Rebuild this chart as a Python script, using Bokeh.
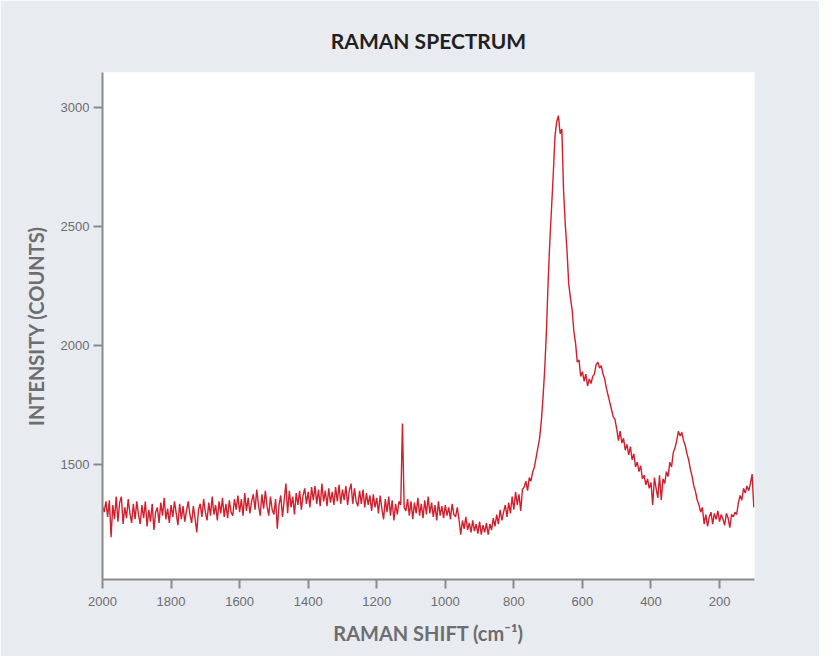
from bokeh.plotting import figure
from bokeh.models import Range1d, Title, FixedTicker
from bokeh.embed import file_html
from bokeh.resources import INLINE

# Raman shift grid (cm^-1), 5 cm^-1 steps from 2000 down to 100
shift_start = 2000
shift_step = 5

intensity_2000_1505 = [
    1325, 1300, 1345, 1280, 1350, 1195, 1330, 1270, 1365, 1260,
    1340, 1365, 1250, 1320, 1275, 1355, 1295, 1255, 1335, 1270,
    1345, 1290, 1250, 1330, 1275, 1345, 1240, 1310, 1260, 1335,
    1225, 1300, 1320, 1255, 1340, 1285, 1360, 1270, 1315, 1255,
    1330, 1280, 1345, 1295, 1245, 1335, 1270, 1325, 1260, 1305,
    1345, 1290, 1255, 1325, 1275, 1215, 1310, 1335, 1280, 1355,
    1300, 1265, 1340, 1285, 1365, 1290, 1330, 1265, 1345, 1295,
    1360, 1280, 1335, 1275, 1350, 1300, 1285, 1355, 1310, 1370,
    1300, 1355, 1285, 1380, 1305, 1360, 1295, 1345, 1375, 1310,
    1395, 1330, 1285, 1375, 1315, 1390, 1325, 1285, 1365, 1310,
]
intensity_1500_1005 = [
    1290, 1355, 1230, 1330, 1370, 1280, 1350, 1420, 1295, 1390,
    1320, 1365, 1290, 1380, 1330, 1390, 1310, 1370, 1400, 1335,
    1385, 1320, 1405, 1350, 1410, 1335, 1395, 1325, 1420, 1345,
    1390, 1325, 1400, 1340, 1385, 1330, 1405, 1345, 1415, 1335,
    1395, 1350, 1410, 1330, 1390, 1420, 1335, 1400, 1345, 1325,
    1390, 1335, 1395, 1320, 1380, 1330, 1370, 1305, 1375, 1320,
    1360, 1295, 1370, 1315, 1270, 1355, 1300, 1365, 1285, 1350,
    1265, 1335, 1290, 1345, 1330, 1672, 1320, 1305, 1355, 1285,
    1345, 1270, 1340, 1295, 1360, 1285, 1335, 1275, 1350, 1290,
    1365, 1295, 1340, 1280, 1330, 1265, 1345, 1285, 1325, 1275,
]
intensity_1000_505 = [
    1330, 1285, 1320, 1270, 1335, 1290, 1280, 1320, 1270, 1205,
    1265, 1230, 1280, 1225, 1255, 1215, 1265, 1220, 1250, 1210,
    1260, 1205, 1245, 1215, 1255, 1205, 1250, 1225, 1275, 1240,
    1290, 1250, 1310, 1265, 1300, 1330, 1280, 1340, 1295, 1365,
    1310, 1385, 1330, 1375, 1305, 1395, 1405, 1430, 1390, 1445,
    1430, 1470, 1490, 1530, 1570, 1610, 1680, 1780, 1900, 2060,
    2270, 2440, 2580, 2720, 2880, 2940, 2966, 2890, 2910, 2650,
    2510, 2400, 2260, 2200, 2150, 2060, 2010, 1930, 1940, 1870,
    1890, 1850, 1880, 1830, 1860, 1840, 1870, 1880, 1920, 1930,
    1905, 1915, 1880, 1860, 1820, 1790, 1760, 1730, 1700, 1690,
]
intensity_500_100 = [
    1650, 1600, 1640, 1590, 1610, 1560, 1585, 1540, 1575, 1520,
    1545, 1490, 1510, 1470, 1495, 1440, 1455, 1415, 1440, 1400,
    1425, 1330, 1445, 1400, 1360, 1455, 1350, 1440, 1420, 1470,
    1450, 1510, 1490, 1550, 1570, 1600, 1640, 1620, 1635, 1600,
    1580, 1545, 1520, 1480, 1450, 1410, 1385, 1350, 1330, 1300,
    1320, 1250, 1290, 1240, 1280, 1300, 1250, 1295, 1270, 1305,
    1260, 1290, 1270, 1245, 1295, 1275, 1235, 1290, 1280, 1300,
    1290, 1340, 1370, 1350, 1400, 1380, 1410, 1390, 1420, 1460,
    1320,
]

intensity = intensity_2000_1505 + intensity_1500_1005 + intensity_1000_505 + intensity_500_100
raman_shift = [shift_start - i * shift_step for i in range(len(intensity))]

x_ticks = [2000, 1800, 1600, 1400, 1200, 1000, 800, 600, 400, 200]
y_ticks = [1500, 2000, 2500, 3000]

p = figure(
    width=819, height=656,
    x_range=Range1d(2000, 98), y_range=Range1d(1017, 3147),
    output_backend="svg", toolbar_location=None,
    min_border_left=102, min_border_top=72, min_border_right=65, min_border_bottom=77,
)
p.background_fill_color = "white"
p.border_fill_color = "#e8ebef"
p.outline_line_color = None
p.grid.visible = False

p.add_layout(Title(text="RAMAN SPECTRUM", align="center", text_font="Lato",
                   text_font_size="21px", text_font_style="bold",
                   text_color="#231f20", standoff=40), "above")

p.line(raman_shift, intensity, line_color="#d0202e", line_width=1.4)

for ax in (p.xaxis[0], p.yaxis[0]):
    ax.axis_line_color = "#8a8a8a"
    ax.axis_line_width = 2
    ax.major_tick_line_color = "#8a8a8a"
    ax.major_tick_line_width = 2
    ax.major_tick_out = 9
    ax.major_tick_in = 0
    ax.minor_tick_line_color = None
    ax.major_label_text_font = "Liberation Sans"
    ax.major_label_text_font_size = "13px"
    ax.major_label_text_color = "#6d6e71"
    ax.axis_label_text_font = "Lato"
    ax.axis_label_text_font_style = "bold"
    ax.axis_label_text_font_size = "20px"
    ax.axis_label_text_color = "#6d6e71"

p.xaxis[0].ticker = FixedTicker(ticks=x_ticks)
p.yaxis[0].ticker = FixedTicker(ticks=y_ticks)
p.xaxis[0].axis_label = "RAMAN SHIFT (cm⁻¹)"
p.yaxis[0].axis_label = "INTENSITY (COUNTS)"
p.xaxis[0].major_label_standoff = 8
p.yaxis[0].major_label_standoff = 4
p.xaxis[0].axis_label_standoff = 12
p.yaxis[0].axis_label_standoff = 10

open("out.html", "w").write(file_html(p, INLINE))
